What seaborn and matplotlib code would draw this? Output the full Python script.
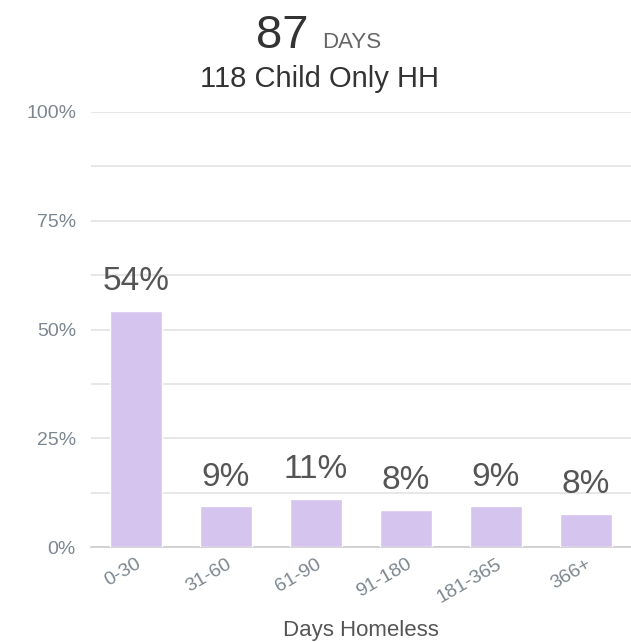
import numpy as np
import pandas as pd
import matplotlib
matplotlib.use("Agg")
import matplotlib.pyplot as plt
import matplotlib.transforms as mtransforms
import seaborn as sns
from matplotlib.ticker import MultipleLocator, FuncFormatter

# data
categories = ["0-30", "31-60", "61-90", "91-180", "181-365", "366+"]
households = [64, 11, 13, 10, 11, 9]
total_hh = 118
avg_days = 87
percent = [100 * h / total_hh for h in households]

df = pd.DataFrame({"bucket": categories, "pct": percent})

sns.set_style("white")
plt.rcParams['font.family'] = ['Liberation Sans', 'DejaVu Sans']

fig = plt.figure(figsize=(6.31, 6.42), dpi=100)
ax = fig.add_axes([91 / 631, 1 - 547 / 642, 540 / 631, 435 / 642])

sns.barplot(data=df, x="bucket", y="pct", color="#d5c4ee", saturation=1,
            width=0.57, ax=ax, zorder=3)

ax.set_ylim(0, 100)
ax.set_xlim(-0.5, len(categories) - 0.5)
ax.yaxis.set_major_locator(MultipleLocator(25))
ax.yaxis.set_minor_locator(MultipleLocator(12.5))
ax.yaxis.set_major_formatter(FuncFormatter(lambda v, p: f"{v:.0f}%"))
ax.grid(axis="y", which="both", color="#e3e3e3", lw=1.2, zorder=0)
ax.tick_params(axis="y", which="major", length=7.2, color="#d0d0d0",
               labelcolor="#7d8791", labelsize=14, pad=3.6)
ax.tick_params(axis="y", which="minor", length=0)

# x ticks: labels at centers, tick marks at category boundaries
ax.set_xticks(np.arange(len(categories)))
ax.set_xticklabels(categories, rotation=30, ha="right", va="center",
                   rotation_mode="anchor")
ax.set_xticks(np.arange(len(categories)) - 0.5, minor=True)
ax.tick_params(axis="x", which="major", length=0, labelcolor="#7d8791",
               labelsize=14, pad=11.5)
ax.tick_params(axis="x", which="minor", length=9, color="#cccccc", width=1.2)
shift = mtransforms.ScaledTranslation(3 / 72, 0, fig.dpi_scale_trans)
for lab in ax.get_xticklabels():
    lab.set_transform(lab.get_transform() + shift)

for s in ["top", "right", "left"]:
    ax.spines[s].set_visible(False)
ax.spines["bottom"].set_color("#cccccc")
ax.spines["bottom"].set_linewidth(1.2)

ax.set_ylabel("")
ax.set_xlabel("Days Homeless", fontsize=16, color="#555555", labelpad=10)

for i, v in enumerate(percent):
    ax.annotate(f"{v:.0f}%", (i, v), xytext=(0, 15), textcoords="offset points",
                ha="center", va="baseline", fontsize=24, color="#555555",
                zorder=4)

fig.text(308 / 631, 1 - 48 / 642, str(avg_days), ha="right", va="baseline",
         fontsize=34, color="#333333")
fig.text(322 / 631, 1 - 48 / 642, "DAYS", ha="left", va="baseline",
         fontsize=16, color="#666666")
fig.text(320 / 631, 1 - 87 / 642, f"{total_hh} Child Only HH", ha="center",
         va="baseline", fontsize=21, color="#333333")

fig.savefig("out.png", dpi=100)
